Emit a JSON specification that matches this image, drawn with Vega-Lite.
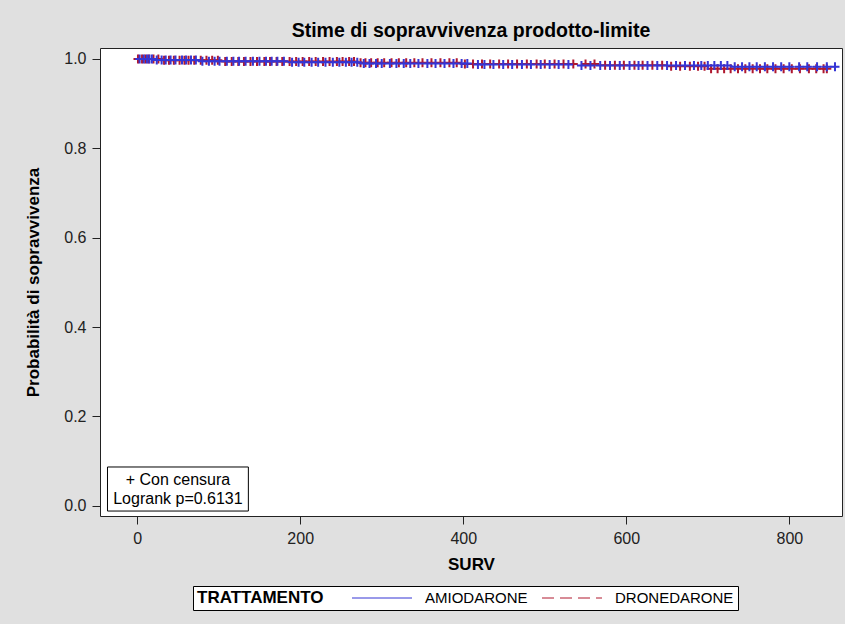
{
  "$schema": "https://vega.github.io/schema/vega-lite/v6.json",
  "autosize": {"type": "none"},
  "width": 742,
  "height": 468,
  "padding": {"left": 100, "top": 48, "right": 3, "bottom": 108},
  "background": "#e0e0e0",
  "title": {"text": "Stime di sopravvivenza prodotto-limite", "fontSize": 19.5, "fontWeight": "bold", "anchor": "middle", "offset": 7, "color": "black"},
  "config": {
    "font": "Liberation Sans",
    "view": {"fill": "white", "stroke": "#222", "strokeWidth": 1},
    "axis": {"grid": false, "domain": false, "labelFontSize": 16, "labelColor": "#222", "tickColor": "#222", "tickSize": 8, "titleFontSize": 17, "titleFontWeight": "bold", "titleColor": "black"},
    "legend": {"labelFontSize": 15, "labelColor": "black", "titleFontSize": 17, "titleFontWeight": "bold", "titleColor": "black", "symbolOpacity": 1}
  },
  "datasets": {
    "curve": [
      {"TRATTAMENTO": "AMIODARONE", "SURV": 0, "p": 1.0},
      {"TRATTAMENTO": "AMIODARONE", "SURV": 22, "p": 0.9975},
      {"TRATTAMENTO": "AMIODARONE", "SURV": 75, "p": 0.995},
      {"TRATTAMENTO": "AMIODARONE", "SURV": 185, "p": 0.9925},
      {"TRATTAMENTO": "AMIODARONE", "SURV": 272, "p": 0.99},
      {"TRATTAMENTO": "AMIODARONE", "SURV": 410, "p": 0.9875},
      {"TRATTAMENTO": "AMIODARONE", "SURV": 540, "p": 0.9855},
      {"TRATTAMENTO": "AMIODARONE", "SURV": 730, "p": 0.9825},
      {"TRATTAMENTO": "AMIODARONE", "SURV": 858, "p": 0.9825},
      {"TRATTAMENTO": "DRONEDARONE", "SURV": 0, "p": 1.0},
      {"TRATTAMENTO": "DRONEDARONE", "SURV": 28, "p": 0.997},
      {"TRATTAMENTO": "DRONEDARONE", "SURV": 105, "p": 0.9945},
      {"TRATTAMENTO": "DRONEDARONE", "SURV": 268, "p": 0.9915},
      {"TRATTAMENTO": "DRONEDARONE", "SURV": 395, "p": 0.989},
      {"TRATTAMENTO": "DRONEDARONE", "SURV": 565, "p": 0.986},
      {"TRATTAMENTO": "DRONEDARONE", "SURV": 650, "p": 0.984},
      {"TRATTAMENTO": "DRONEDARONE", "SURV": 700, "p": 0.978},
      {"TRATTAMENTO": "DRONEDARONE", "SURV": 846, "p": 0.978}
    ],
    "censored": [
      {"TRATTAMENTO": "AMIODARONE", "SURV": 3, "p": 1.0},
      {"TRATTAMENTO": "AMIODARONE", "SURV": 8, "p": 1.0},
      {"TRATTAMENTO": "AMIODARONE", "SURV": 12, "p": 1.0},
      {"TRATTAMENTO": "AMIODARONE", "SURV": 15, "p": 1.0},
      {"TRATTAMENTO": "AMIODARONE", "SURV": 18, "p": 1.0},
      {"TRATTAMENTO": "AMIODARONE", "SURV": 24, "p": 0.9975},
      {"TRATTAMENTO": "AMIODARONE", "SURV": 30, "p": 0.9975},
      {"TRATTAMENTO": "AMIODARONE", "SURV": 35, "p": 0.9975},
      {"TRATTAMENTO": "AMIODARONE", "SURV": 41, "p": 0.9975},
      {"TRATTAMENTO": "AMIODARONE", "SURV": 47, "p": 0.9975},
      {"TRATTAMENTO": "AMIODARONE", "SURV": 55, "p": 0.9975},
      {"TRATTAMENTO": "AMIODARONE", "SURV": 60, "p": 0.9975},
      {"TRATTAMENTO": "AMIODARONE", "SURV": 66, "p": 0.9975},
      {"TRATTAMENTO": "AMIODARONE", "SURV": 72, "p": 0.9975},
      {"TRATTAMENTO": "AMIODARONE", "SURV": 80, "p": 0.995},
      {"TRATTAMENTO": "AMIODARONE", "SURV": 88, "p": 0.995},
      {"TRATTAMENTO": "AMIODARONE", "SURV": 95, "p": 0.995},
      {"TRATTAMENTO": "AMIODARONE", "SURV": 101, "p": 0.995},
      {"TRATTAMENTO": "AMIODARONE", "SURV": 110, "p": 0.995},
      {"TRATTAMENTO": "AMIODARONE", "SURV": 118, "p": 0.995},
      {"TRATTAMENTO": "AMIODARONE", "SURV": 125, "p": 0.995},
      {"TRATTAMENTO": "AMIODARONE", "SURV": 133, "p": 0.995},
      {"TRATTAMENTO": "AMIODARONE", "SURV": 142, "p": 0.995},
      {"TRATTAMENTO": "AMIODARONE", "SURV": 150, "p": 0.995},
      {"TRATTAMENTO": "AMIODARONE", "SURV": 158, "p": 0.995},
      {"TRATTAMENTO": "AMIODARONE", "SURV": 165, "p": 0.995},
      {"TRATTAMENTO": "AMIODARONE", "SURV": 172, "p": 0.995},
      {"TRATTAMENTO": "AMIODARONE", "SURV": 180, "p": 0.995},
      {"TRATTAMENTO": "AMIODARONE", "SURV": 190, "p": 0.9925},
      {"TRATTAMENTO": "AMIODARONE", "SURV": 198, "p": 0.9925},
      {"TRATTAMENTO": "AMIODARONE", "SURV": 205, "p": 0.9925},
      {"TRATTAMENTO": "AMIODARONE", "SURV": 214, "p": 0.9925},
      {"TRATTAMENTO": "AMIODARONE", "SURV": 222, "p": 0.9925},
      {"TRATTAMENTO": "AMIODARONE", "SURV": 231, "p": 0.9925},
      {"TRATTAMENTO": "AMIODARONE", "SURV": 240, "p": 0.9925},
      {"TRATTAMENTO": "AMIODARONE", "SURV": 248, "p": 0.9925},
      {"TRATTAMENTO": "AMIODARONE", "SURV": 256, "p": 0.9925},
      {"TRATTAMENTO": "AMIODARONE", "SURV": 263, "p": 0.9925},
      {"TRATTAMENTO": "AMIODARONE", "SURV": 270, "p": 0.9925},
      {"TRATTAMENTO": "AMIODARONE", "SURV": 278, "p": 0.99},
      {"TRATTAMENTO": "AMIODARONE", "SURV": 285, "p": 0.99},
      {"TRATTAMENTO": "AMIODARONE", "SURV": 293, "p": 0.99},
      {"TRATTAMENTO": "AMIODARONE", "SURV": 300, "p": 0.99},
      {"TRATTAMENTO": "AMIODARONE", "SURV": 310, "p": 0.99},
      {"TRATTAMENTO": "AMIODARONE", "SURV": 318, "p": 0.99},
      {"TRATTAMENTO": "AMIODARONE", "SURV": 327, "p": 0.99},
      {"TRATTAMENTO": "AMIODARONE", "SURV": 335, "p": 0.99},
      {"TRATTAMENTO": "AMIODARONE", "SURV": 345, "p": 0.99},
      {"TRATTAMENTO": "AMIODARONE", "SURV": 356, "p": 0.99},
      {"TRATTAMENTO": "AMIODARONE", "SURV": 366, "p": 0.99},
      {"TRATTAMENTO": "AMIODARONE", "SURV": 377, "p": 0.99},
      {"TRATTAMENTO": "AMIODARONE", "SURV": 388, "p": 0.99},
      {"TRATTAMENTO": "AMIODARONE", "SURV": 398, "p": 0.99},
      {"TRATTAMENTO": "AMIODARONE", "SURV": 405, "p": 0.99},
      {"TRATTAMENTO": "AMIODARONE", "SURV": 418, "p": 0.9875},
      {"TRATTAMENTO": "AMIODARONE", "SURV": 426, "p": 0.9875},
      {"TRATTAMENTO": "AMIODARONE", "SURV": 437, "p": 0.9875},
      {"TRATTAMENTO": "AMIODARONE", "SURV": 449, "p": 0.9875},
      {"TRATTAMENTO": "AMIODARONE", "SURV": 460, "p": 0.9875},
      {"TRATTAMENTO": "AMIODARONE", "SURV": 472, "p": 0.9875},
      {"TRATTAMENTO": "AMIODARONE", "SURV": 483, "p": 0.9875},
      {"TRATTAMENTO": "AMIODARONE", "SURV": 495, "p": 0.9875},
      {"TRATTAMENTO": "AMIODARONE", "SURV": 506, "p": 0.9875},
      {"TRATTAMENTO": "AMIODARONE", "SURV": 517, "p": 0.9875},
      {"TRATTAMENTO": "AMIODARONE", "SURV": 529, "p": 0.9875},
      {"TRATTAMENTO": "AMIODARONE", "SURV": 545, "p": 0.9855},
      {"TRATTAMENTO": "AMIODARONE", "SURV": 556, "p": 0.9855},
      {"TRATTAMENTO": "AMIODARONE", "SURV": 568, "p": 0.9855},
      {"TRATTAMENTO": "AMIODARONE", "SURV": 580, "p": 0.9855},
      {"TRATTAMENTO": "AMIODARONE", "SURV": 592, "p": 0.9855},
      {"TRATTAMENTO": "AMIODARONE", "SURV": 604, "p": 0.9855},
      {"TRATTAMENTO": "AMIODARONE", "SURV": 615, "p": 0.9855},
      {"TRATTAMENTO": "AMIODARONE", "SURV": 626, "p": 0.9855},
      {"TRATTAMENTO": "AMIODARONE", "SURV": 638, "p": 0.9855},
      {"TRATTAMENTO": "AMIODARONE", "SURV": 650, "p": 0.9855},
      {"TRATTAMENTO": "AMIODARONE", "SURV": 661, "p": 0.9855},
      {"TRATTAMENTO": "AMIODARONE", "SURV": 672, "p": 0.9855},
      {"TRATTAMENTO": "AMIODARONE", "SURV": 683, "p": 0.9855},
      {"TRATTAMENTO": "AMIODARONE", "SURV": 692, "p": 0.9855},
      {"TRATTAMENTO": "AMIODARONE", "SURV": 700, "p": 0.9855},
      {"TRATTAMENTO": "AMIODARONE", "SURV": 708, "p": 0.9855},
      {"TRATTAMENTO": "AMIODARONE", "SURV": 716, "p": 0.9855},
      {"TRATTAMENTO": "AMIODARONE", "SURV": 724, "p": 0.9855},
      {"TRATTAMENTO": "AMIODARONE", "SURV": 733, "p": 0.9825},
      {"TRATTAMENTO": "AMIODARONE", "SURV": 742, "p": 0.9825},
      {"TRATTAMENTO": "AMIODARONE", "SURV": 751, "p": 0.9825},
      {"TRATTAMENTO": "AMIODARONE", "SURV": 760, "p": 0.9825},
      {"TRATTAMENTO": "AMIODARONE", "SURV": 770, "p": 0.9825},
      {"TRATTAMENTO": "AMIODARONE", "SURV": 780, "p": 0.9825},
      {"TRATTAMENTO": "AMIODARONE", "SURV": 790, "p": 0.9825},
      {"TRATTAMENTO": "AMIODARONE", "SURV": 800, "p": 0.9825},
      {"TRATTAMENTO": "AMIODARONE", "SURV": 812, "p": 0.9825},
      {"TRATTAMENTO": "AMIODARONE", "SURV": 822, "p": 0.9825},
      {"TRATTAMENTO": "AMIODARONE", "SURV": 834, "p": 0.9825},
      {"TRATTAMENTO": "AMIODARONE", "SURV": 846, "p": 0.9825},
      {"TRATTAMENTO": "AMIODARONE", "SURV": 856, "p": 0.9825},
      {"TRATTAMENTO": "DRONEDARONE", "SURV": 1, "p": 1.0},
      {"TRATTAMENTO": "DRONEDARONE", "SURV": 6, "p": 1.0},
      {"TRATTAMENTO": "DRONEDARONE", "SURV": 10, "p": 1.0},
      {"TRATTAMENTO": "DRONEDARONE", "SURV": 14, "p": 1.0},
      {"TRATTAMENTO": "DRONEDARONE", "SURV": 20, "p": 1.0},
      {"TRATTAMENTO": "DRONEDARONE", "SURV": 26, "p": 1.0},
      {"TRATTAMENTO": "DRONEDARONE", "SURV": 33, "p": 0.997},
      {"TRATTAMENTO": "DRONEDARONE", "SURV": 39, "p": 0.997},
      {"TRATTAMENTO": "DRONEDARONE", "SURV": 45, "p": 0.997},
      {"TRATTAMENTO": "DRONEDARONE", "SURV": 52, "p": 0.997},
      {"TRATTAMENTO": "DRONEDARONE", "SURV": 58, "p": 0.997},
      {"TRATTAMENTO": "DRONEDARONE", "SURV": 63, "p": 0.997},
      {"TRATTAMENTO": "DRONEDARONE", "SURV": 70, "p": 0.997},
      {"TRATTAMENTO": "DRONEDARONE", "SURV": 78, "p": 0.997},
      {"TRATTAMENTO": "DRONEDARONE", "SURV": 85, "p": 0.997},
      {"TRATTAMENTO": "DRONEDARONE", "SURV": 92, "p": 0.997},
      {"TRATTAMENTO": "DRONEDARONE", "SURV": 99, "p": 0.997},
      {"TRATTAMENTO": "DRONEDARONE", "SURV": 108, "p": 0.9945},
      {"TRATTAMENTO": "DRONEDARONE", "SURV": 116, "p": 0.9945},
      {"TRATTAMENTO": "DRONEDARONE", "SURV": 124, "p": 0.9945},
      {"TRATTAMENTO": "DRONEDARONE", "SURV": 131, "p": 0.9945},
      {"TRATTAMENTO": "DRONEDARONE", "SURV": 139, "p": 0.9945},
      {"TRATTAMENTO": "DRONEDARONE", "SURV": 147, "p": 0.9945},
      {"TRATTAMENTO": "DRONEDARONE", "SURV": 156, "p": 0.9945},
      {"TRATTAMENTO": "DRONEDARONE", "SURV": 163, "p": 0.9945},
      {"TRATTAMENTO": "DRONEDARONE", "SURV": 171, "p": 0.9945},
      {"TRATTAMENTO": "DRONEDARONE", "SURV": 178, "p": 0.9945},
      {"TRATTAMENTO": "DRONEDARONE", "SURV": 187, "p": 0.9945},
      {"TRATTAMENTO": "DRONEDARONE", "SURV": 195, "p": 0.9945},
      {"TRATTAMENTO": "DRONEDARONE", "SURV": 203, "p": 0.9945},
      {"TRATTAMENTO": "DRONEDARONE", "SURV": 211, "p": 0.9945},
      {"TRATTAMENTO": "DRONEDARONE", "SURV": 219, "p": 0.9945},
      {"TRATTAMENTO": "DRONEDARONE", "SURV": 228, "p": 0.9945},
      {"TRATTAMENTO": "DRONEDARONE", "SURV": 236, "p": 0.9945},
      {"TRATTAMENTO": "DRONEDARONE", "SURV": 245, "p": 0.9945},
      {"TRATTAMENTO": "DRONEDARONE", "SURV": 252, "p": 0.9945},
      {"TRATTAMENTO": "DRONEDARONE", "SURV": 260, "p": 0.9945},
      {"TRATTAMENTO": "DRONEDARONE", "SURV": 266, "p": 0.9945},
      {"TRATTAMENTO": "DRONEDARONE", "SURV": 274, "p": 0.9915},
      {"TRATTAMENTO": "DRONEDARONE", "SURV": 280, "p": 0.9915},
      {"TRATTAMENTO": "DRONEDARONE", "SURV": 287, "p": 0.9915},
      {"TRATTAMENTO": "DRONEDARONE", "SURV": 295, "p": 0.9915},
      {"TRATTAMENTO": "DRONEDARONE", "SURV": 303, "p": 0.9915},
      {"TRATTAMENTO": "DRONEDARONE", "SURV": 312, "p": 0.9915},
      {"TRATTAMENTO": "DRONEDARONE", "SURV": 321, "p": 0.9915},
      {"TRATTAMENTO": "DRONEDARONE", "SURV": 330, "p": 0.9915},
      {"TRATTAMENTO": "DRONEDARONE", "SURV": 340, "p": 0.9915},
      {"TRATTAMENTO": "DRONEDARONE", "SURV": 350, "p": 0.9915},
      {"TRATTAMENTO": "DRONEDARONE", "SURV": 361, "p": 0.9915},
      {"TRATTAMENTO": "DRONEDARONE", "SURV": 372, "p": 0.9915},
      {"TRATTAMENTO": "DRONEDARONE", "SURV": 383, "p": 0.9915},
      {"TRATTAMENTO": "DRONEDARONE", "SURV": 392, "p": 0.9915},
      {"TRATTAMENTO": "DRONEDARONE", "SURV": 402, "p": 0.989},
      {"TRATTAMENTO": "DRONEDARONE", "SURV": 412, "p": 0.989},
      {"TRATTAMENTO": "DRONEDARONE", "SURV": 423, "p": 0.989},
      {"TRATTAMENTO": "DRONEDARONE", "SURV": 433, "p": 0.989},
      {"TRATTAMENTO": "DRONEDARONE", "SURV": 444, "p": 0.989},
      {"TRATTAMENTO": "DRONEDARONE", "SURV": 455, "p": 0.989},
      {"TRATTAMENTO": "DRONEDARONE", "SURV": 466, "p": 0.989},
      {"TRATTAMENTO": "DRONEDARONE", "SURV": 478, "p": 0.989},
      {"TRATTAMENTO": "DRONEDARONE", "SURV": 490, "p": 0.989},
      {"TRATTAMENTO": "DRONEDARONE", "SURV": 500, "p": 0.989},
      {"TRATTAMENTO": "DRONEDARONE", "SURV": 512, "p": 0.989},
      {"TRATTAMENTO": "DRONEDARONE", "SURV": 523, "p": 0.989},
      {"TRATTAMENTO": "DRONEDARONE", "SURV": 535, "p": 0.989},
      {"TRATTAMENTO": "DRONEDARONE", "SURV": 550, "p": 0.989},
      {"TRATTAMENTO": "DRONEDARONE", "SURV": 561, "p": 0.989},
      {"TRATTAMENTO": "DRONEDARONE", "SURV": 574, "p": 0.986},
      {"TRATTAMENTO": "DRONEDARONE", "SURV": 586, "p": 0.986},
      {"TRATTAMENTO": "DRONEDARONE", "SURV": 597, "p": 0.986},
      {"TRATTAMENTO": "DRONEDARONE", "SURV": 610, "p": 0.986},
      {"TRATTAMENTO": "DRONEDARONE", "SURV": 620, "p": 0.986},
      {"TRATTAMENTO": "DRONEDARONE", "SURV": 632, "p": 0.986},
      {"TRATTAMENTO": "DRONEDARONE", "SURV": 644, "p": 0.986},
      {"TRATTAMENTO": "DRONEDARONE", "SURV": 655, "p": 0.984},
      {"TRATTAMENTO": "DRONEDARONE", "SURV": 666, "p": 0.984},
      {"TRATTAMENTO": "DRONEDARONE", "SURV": 678, "p": 0.984},
      {"TRATTAMENTO": "DRONEDARONE", "SURV": 688, "p": 0.984},
      {"TRATTAMENTO": "DRONEDARONE", "SURV": 696, "p": 0.984},
      {"TRATTAMENTO": "DRONEDARONE", "SURV": 704, "p": 0.978},
      {"TRATTAMENTO": "DRONEDARONE", "SURV": 712, "p": 0.978},
      {"TRATTAMENTO": "DRONEDARONE", "SURV": 720, "p": 0.978},
      {"TRATTAMENTO": "DRONEDARONE", "SURV": 728, "p": 0.978},
      {"TRATTAMENTO": "DRONEDARONE", "SURV": 737, "p": 0.978},
      {"TRATTAMENTO": "DRONEDARONE", "SURV": 746, "p": 0.978},
      {"TRATTAMENTO": "DRONEDARONE", "SURV": 755, "p": 0.978},
      {"TRATTAMENTO": "DRONEDARONE", "SURV": 764, "p": 0.978},
      {"TRATTAMENTO": "DRONEDARONE", "SURV": 773, "p": 0.978},
      {"TRATTAMENTO": "DRONEDARONE", "SURV": 783, "p": 0.978},
      {"TRATTAMENTO": "DRONEDARONE", "SURV": 793, "p": 0.978},
      {"TRATTAMENTO": "DRONEDARONE", "SURV": 803, "p": 0.978},
      {"TRATTAMENTO": "DRONEDARONE", "SURV": 813, "p": 0.978},
      {"TRATTAMENTO": "DRONEDARONE", "SURV": 824, "p": 0.978},
      {"TRATTAMENTO": "DRONEDARONE", "SURV": 833, "p": 0.978},
      {"TRATTAMENTO": "DRONEDARONE", "SURV": 842, "p": 0.978},
      {"TRATTAMENTO": "DRONEDARONE", "SURV": 846, "p": 0.978}
    ]
  },
  "layer": [
    {
      "data": {"name": "curve"},
      "mark": {"type": "line", "interpolate": "step-after", "strokeWidth": 1},
      "encoding": {
        "x": {"field": "SURV", "type": "quantitative", "title": "SURV",
          "scale": {"domain": [-45.6, 864.6], "nice": false, "zero": false},
          "axis": {"values": [0, 200, 400, 600, 800], "format": "d", "labelPadding": 6, "titlePadding": 10}},
        "y": {"field": "p", "type": "quantitative", "title": "Probabilità di sopravvivenza",
          "scale": {"domain": [-0.023, 1.0246], "nice": false, "zero": false},
          "axis": {"values": [0, 0.2, 0.4, 0.6, 0.8, 1.0], "format": ".1f", "labelPadding": 6, "titlePadding": 21}},
        "color": {"field": "TRATTAMENTO", "type": "nominal",
          "scale": {"domain": ["AMIODARONE", "DRONEDARONE"], "range": ["#3535d4", "#b0182e"]},
          "legend": {"orient": "none", "legendX": 93, "legendY": 538, "direction": "horizontal", "title": "TRATTAMENTO", "titleOrient": "left", "titleBaseline": "middle", "titlePadding": 50, "labelOffset": 35, "columnPadding": 12, "symbolType": "M-4,0H4", "symbolSize": 225, "symbolStrokeWidth": 1, "symbolOpacity": 1, "strokeColor": "black", "fillColor": "white", "padding": 4}},
        "strokeDash": {"field": "TRATTAMENTO", "type": "nominal",
          "scale": {"domain": ["AMIODARONE", "DRONEDARONE"], "range": [[1, 0], [12, 6]]},
          "legend": {"orient": "none", "legendX": 93, "legendY": 538, "direction": "horizontal", "title": "TRATTAMENTO", "titleOrient": "left", "titleBaseline": "middle", "titlePadding": 50, "labelOffset": 35, "columnPadding": 12, "symbolType": "M-4,0H4", "symbolSize": 225, "symbolStrokeWidth": 1, "symbolOpacity": 1, "strokeColor": "black", "fillColor": "white", "padding": 4}}
      }
    },
    {
      "data": {"name": "censored"},
      "transform": [{"filter": "datum.TRATTAMENTO === 'DRONEDARONE'"}],
      "mark": {"type": "point", "shape": "M-1,0H1M0,-1V1", "filled": false, "color": "#b0182e", "strokeWidth": 2, "size": 81, "opacity": 1},
      "encoding": {
        "x": {"field": "SURV", "type": "quantitative"},
        "y": {"field": "p", "type": "quantitative"}
      }
    },
    {
      "data": {"name": "censored"},
      "transform": [{"filter": "datum.TRATTAMENTO === 'AMIODARONE'"}],
      "mark": {"type": "point", "shape": "M-1,0H1M0,-1V1", "filled": false, "color": "#3535d4", "strokeWidth": 2, "size": 81, "opacity": 1},
      "encoding": {
        "x": {"field": "SURV", "type": "quantitative"},
        "y": {"field": "p", "type": "quantitative"}
      }
    },
    {
      "data": {"values": [{"note": "Logrank p=0.6131"}]},
      "mark": {"type": "rect", "fill": "white", "stroke": "black", "strokeWidth": 1},
      "encoding": {
        "x": {"datum": -36.4, "type": "quantitative"},
        "x2": {"datum": 136.4},
        "y": {"datum": -0.0119, "type": "quantitative"},
        "y2": {"datum": 0.0867}
      }
    },
    {
      "data": {"values": [{"note": "Logrank p=0.6131"}]},
      "mark": {"type": "text", "fontSize": 16, "lineHeight": 19, "align": "center", "baseline": "middle", "color": "black", "text": ["+ Con censura", "Logrank p=0.6131"]},
      "encoding": {
        "x": {"datum": 50, "type": "quantitative"},
        "y": {"datum": 0.0576, "type": "quantitative"}
      }
    }
  ]
}
